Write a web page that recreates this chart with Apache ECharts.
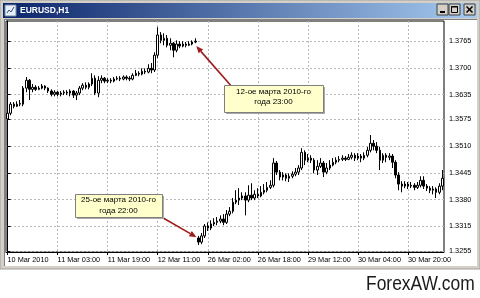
<!DOCTYPE html>
<html><head><meta charset="utf-8">
<script src="https://cdn.jsdelivr.net/npm/echarts@6/dist/echarts.min.js"></script>
<style>html,body{margin:0;padding:0;background:#fff;}#c{width:480px;height:298px;}</style>
</head><body><div id="c"></div>
<script>
const chartTitle = 'EURUSD,H1';
const times = [
'10 Mar 11:00','10 Mar 12:00','10 Mar 13:00','10 Mar 14:00','10 Mar 15:00','10 Mar 16:00','10 Mar 17:00','10 Mar 18:00','10 Mar 19:00','10 Mar 20:00','10 Mar 21:00','10 Mar 22:00','10 Mar 23:00',
'11 Mar 00:00','11 Mar 01:00','11 Mar 02:00','11 Mar 03:00','11 Mar 04:00','11 Mar 05:00','11 Mar 06:00','11 Mar 07:00','11 Mar 08:00','11 Mar 09:00','11 Mar 10:00','11 Mar 11:00','11 Mar 12:00','11 Mar 13:00','11 Mar 14:00','11 Mar 15:00','11 Mar 16:00','11 Mar 17:00','11 Mar 18:00','11 Mar 19:00','11 Mar 20:00','11 Mar 21:00','11 Mar 22:00','11 Mar 23:00',
'12 Mar 00:00','12 Mar 01:00','12 Mar 02:00','12 Mar 03:00','12 Mar 04:00','12 Mar 05:00','12 Mar 06:00','12 Mar 07:00','12 Mar 08:00','12 Mar 09:00','12 Mar 10:00','12 Mar 11:00','12 Mar 12:00','12 Mar 13:00','12 Mar 14:00','12 Mar 15:00','12 Mar 16:00','12 Mar 17:00','12 Mar 18:00','12 Mar 19:00','12 Mar 20:00','12 Mar 21:00','12 Mar 22:00','12 Mar 23:00',
'25 Mar 23:00',
'26 Mar 00:00','26 Mar 01:00','26 Mar 02:00','26 Mar 03:00','26 Mar 04:00','26 Mar 05:00','26 Mar 06:00','26 Mar 07:00','26 Mar 08:00','26 Mar 09:00','26 Mar 10:00','26 Mar 11:00','26 Mar 12:00','26 Mar 13:00','26 Mar 14:00','26 Mar 15:00','26 Mar 16:00','26 Mar 17:00','26 Mar 18:00','26 Mar 19:00','26 Mar 20:00','26 Mar 21:00',
'29 Mar 00:00','29 Mar 01:00','29 Mar 02:00','29 Mar 03:00','29 Mar 04:00','29 Mar 05:00','29 Mar 06:00','29 Mar 07:00','29 Mar 08:00','29 Mar 09:00','29 Mar 10:00','29 Mar 11:00','29 Mar 12:00','29 Mar 13:00','29 Mar 14:00','29 Mar 15:00','29 Mar 16:00','29 Mar 17:00','29 Mar 18:00','29 Mar 19:00','29 Mar 20:00','29 Mar 21:00','29 Mar 22:00','29 Mar 23:00',
'30 Mar 00:00','30 Mar 01:00','30 Mar 02:00','30 Mar 03:00','30 Mar 04:00','30 Mar 05:00','30 Mar 06:00','30 Mar 07:00','30 Mar 08:00','30 Mar 09:00','30 Mar 10:00','30 Mar 11:00','30 Mar 12:00','30 Mar 13:00','30 Mar 14:00','30 Mar 15:00','30 Mar 16:00','30 Mar 17:00','30 Mar 18:00','30 Mar 19:00','30 Mar 20:00','30 Mar 21:00','30 Mar 22:00','30 Mar 23:00',
'31 Mar 00:00','31 Mar 01:00','31 Mar 02:00','31 Mar 03:00','31 Mar 04:00','31 Mar 05:00','31 Mar 06:00','31 Mar 07:00'
];
const opens = [
1.3576,1.3590,1.3612,1.3607,1.3612,1.3612,1.3651,1.3670,1.3648,1.3653,
1.3648,1.3651,1.3656,1.3651,1.3644,1.3636,1.3641,1.3636,1.3639,1.3641,
1.3639,1.3644,1.3634,1.3639,1.3651,1.3658,1.3653,1.3661,1.3675,1.3639,
1.3670,1.3675,1.3668,1.3670,1.3668,1.3673,1.3675,1.3673,1.3678,1.3675,
1.3673,1.3682,1.3687,1.3685,1.3692,1.3690,1.3699,1.3695,1.3731,1.3780,
1.3767,1.3772,1.3755,1.3760,1.3743,1.3758,1.3753,1.3758,1.3755,1.3758,
1.3763,
1.3287,1.3277,1.3292,1.3316,1.3311,1.3321,1.3325,1.3328,1.3333,1.3325,
1.3345,1.3352,1.3374,1.3379,1.3384,1.3389,1.3379,1.3391,1.3384,1.3393,
1.3389,1.3398,1.3403,1.3410,1.3415,1.3469,1.3447,1.3435,1.3440,1.3432,
1.3437,1.3442,1.3447,1.3457,1.3495,1.3476,1.3481,1.3476,1.3452,1.3461,
1.3469,1.3447,1.3457,1.3464,1.3471,1.3476,1.3478,1.3481,1.3478,1.3483,
1.3488,1.3481,1.3486,1.3481,1.3488,1.3500,1.3517,1.3510,1.3500,1.3476,
1.3488,1.3483,1.3486,1.3471,1.3440,1.3418,1.3413,1.3418,1.3413,1.3415,
1.3410,1.3415,1.3427,1.3413,1.3408,1.3403,1.3406,1.3398,1.3413
];
const closes = [
1.3590,1.3612,1.3607,1.3612,1.3614,1.3651,1.3670,1.3648,1.3653,1.3648,
1.3651,1.3656,1.3651,1.3644,1.3636,1.3641,1.3636,1.3639,1.3641,1.3639,
1.3644,1.3634,1.3639,1.3651,1.3658,1.3653,1.3661,1.3675,1.3639,1.3670,
1.3675,1.3668,1.3670,1.3668,1.3673,1.3675,1.3673,1.3678,1.3675,1.3673,
1.3682,1.3687,1.3685,1.3692,1.3690,1.3699,1.3695,1.3731,1.3780,1.3767,
1.3772,1.3755,1.3760,1.3743,1.3758,1.3753,1.3758,1.3755,1.3758,1.3763,
1.3765,
1.3277,1.3292,1.3316,1.3311,1.3321,1.3325,1.3328,1.3333,1.3325,1.3345,
1.3352,1.3374,1.3379,1.3384,1.3389,1.3379,1.3391,1.3384,1.3393,1.3389,
1.3398,1.3403,1.3410,1.3415,1.3469,1.3447,1.3435,1.3440,1.3432,1.3437,
1.3442,1.3447,1.3457,1.3495,1.3476,1.3481,1.3476,1.3452,1.3461,1.3469,
1.3447,1.3457,1.3464,1.3471,1.3476,1.3478,1.3481,1.3478,1.3483,1.3488,
1.3481,1.3486,1.3481,1.3488,1.3500,1.3517,1.3510,1.3500,1.3476,1.3488,
1.3483,1.3486,1.3471,1.3440,1.3418,1.3413,1.3418,1.3413,1.3415,1.3410,
1.3415,1.3427,1.3413,1.3408,1.3403,1.3406,1.3398,1.3413,1.3432
];
const highs = [
1.3597,1.3617,1.3617,1.3619,1.3622,1.3656,1.3678,1.3673,1.3661,1.3658,
1.3656,1.3661,1.3658,1.3653,1.3648,1.3646,1.3644,1.3644,1.3646,1.3646,
1.3648,1.3646,1.3644,1.3656,1.3663,1.3665,1.3665,1.3687,1.3682,1.3680,
1.3682,1.3678,1.3675,1.3675,1.3678,1.3680,1.3680,1.3682,1.3682,1.3680,
1.3687,1.3695,1.3692,1.3699,1.3699,1.3709,1.3712,1.3738,1.3799,1.3787,
1.3784,1.3780,1.3772,1.3763,1.3767,1.3765,1.3765,1.3763,1.3765,1.3767,
1.3772,
1.3292,1.3299,1.3321,1.3325,1.3330,1.3335,1.3338,1.3342,1.3345,1.3355,
1.3362,1.3384,1.3403,1.3408,1.3398,1.3398,1.3415,1.3420,1.3403,1.3408,
1.3413,1.3418,1.3423,1.3427,1.3481,1.3474,1.3452,1.3447,1.3444,1.3444,
1.3449,1.3457,1.3464,1.3505,1.3500,1.3491,1.3488,1.3481,1.3476,1.3481,
1.3474,1.3469,1.3476,1.3481,1.3483,1.3486,1.3488,1.3486,1.3491,1.3495,
1.3493,1.3493,1.3491,1.3495,1.3508,1.3537,1.3525,1.3520,1.3508,1.3493,
1.3493,1.3493,1.3491,1.3476,1.3447,1.3425,1.3425,1.3423,1.3423,1.3420,
1.3423,1.3437,1.3437,1.3418,1.3413,1.3413,1.3410,1.3420,1.3452
];
const lows = [
1.3571,1.3585,1.3602,1.3605,1.3607,1.3607,1.3641,1.3622,1.3641,1.3644,
1.3646,1.3648,1.3646,1.3639,1.3631,1.3631,1.3631,1.3631,1.3634,1.3634,
1.3631,1.3627,1.3622,1.3634,1.3646,1.3648,1.3648,1.3656,1.3634,1.3629,
1.3663,1.3663,1.3663,1.3663,1.3665,1.3670,1.3668,1.3670,1.3670,1.3668,
1.3670,1.3680,1.3680,1.3682,1.3685,1.3687,1.3687,1.3690,1.3724,1.3760,
1.3755,1.3750,1.3743,1.3726,1.3738,1.3748,1.3750,1.3750,1.3753,1.3755,
1.3760,
1.3270,1.3272,1.3287,1.3304,1.3306,1.3316,1.3318,1.3323,1.3318,1.3321,
1.3340,1.3347,1.3369,1.3367,1.3379,1.3342,1.3374,1.3379,1.3379,1.3384,
1.3386,1.3393,1.3398,1.3406,1.3410,1.3440,1.3427,1.3427,1.3425,1.3423,
1.3432,1.3437,1.3440,1.3452,1.3464,1.3471,1.3469,1.3444,1.3440,1.3457,
1.3435,1.3442,1.3452,1.3461,1.3466,1.3471,1.3474,1.3474,1.3476,1.3478,
1.3474,1.3476,1.3471,1.3476,1.3483,1.3495,1.3500,1.3493,1.3452,1.3469,
1.3471,1.3476,1.3457,1.3432,1.3403,1.3398,1.3408,1.3406,1.3408,1.3403,
1.3406,1.3410,1.3406,1.3401,1.3396,1.3393,1.3384,1.3393,1.3403
];
const xTickIndex = [0, 16, 32, 48, 64, 80, 96, 112, 128];
const xTickLabels = ['10 Mar 2010','11 Mar 03:00','11 Mar 19:00','12 Mar 11:00','26 Mar 02:00','26 Mar 18:00','29 Mar 12:00','30 Mar 04:00','30 Mar 20:00'];
const yTickValues = [1.3255, 1.3315, 1.3380, 1.3445, 1.3510, 1.3575, 1.3635, 1.3700, 1.3765];
const yTickLabels = ['1.3255','1.3315','1.3380','1.3445','1.3510','1.3575','1.3635','1.3700','1.3765'];
const noteTexts = ['12-ое марта 2010-го\nгода 23:00', '25-ое марта 2010-го\nгода 22:00'];
const noteBarIndex = [60, 61];
const notePrice = [1.3753, 1.3289];
const watermark = 'ForexAW.com';

const FONT = '"Liberation Sans", Arial, sans-serif';
const chart = echarts.init(document.getElementById('c'), null, {renderer: 'canvas', width: 480, height: 298});
const candleData = times.map((t, i) => [i, opens[i], closes[i], lows[i], highs[i]]);

const chrome = [
  {type: 'rect', z: -30, shape: {x: 0, y: 0, width: 480, height: 269}, style: {fill: '#d4d0c8', stroke: '#a0a0a0', lineWidth: 1}},
  {type: 'rect', z: -29, shape: {x: 3, y: 3, width: 474, height: 15},
    style: {fill: new echarts.graphic.LinearGradient(0, 0, 1, 0, [{offset: 0, color: '#0a246a'}, {offset: 1, color: '#a6caf0'}])}},
  {type: 'rect', z: -28, shape: {x: 5, y: 5, width: 11, height: 11}, style: {fill: '#e6eef8', stroke: '#7a8aa0', lineWidth: 1}},
  {type: 'polyline', z: -27, shape: {points: [[7, 13], [9, 10], [11, 12], [14, 7]]}, style: {stroke: '#305080', lineWidth: 1, fill: null}},
  {type: 'text', z: -27, x: 20, y: 10.5, style: {text: chartTitle, font: 'bold 8.5px ' + FONT, fill: '#ffffff', verticalAlign: 'middle'}},
  {type: 'rect', z: -28, shape: {x: 437, y: 4, width: 11, height: 11}, style: {fill: '#d4d0c8', stroke: '#404040', lineWidth: 1}},
  {type: 'rect', z: -27, shape: {x: 440, y: 11, width: 5, height: 2}, style: {fill: '#000'}},
  {type: 'rect', z: -28, shape: {x: 449, y: 4, width: 11, height: 11}, style: {fill: '#d4d0c8', stroke: '#404040', lineWidth: 1}},
  {type: 'rect', z: -27, shape: {x: 451.5, y: 6.5, width: 6, height: 6}, style: {fill: null, stroke: '#000', lineWidth: 1}},
  {type: 'rect', z: -27, shape: {x: 451.5, y: 6.5, width: 6, height: 1}, style: {fill: '#000'}},
  {type: 'rect', z: -28, shape: {x: 464, y: 4, width: 11, height: 11}, style: {fill: '#d4d0c8', stroke: '#404040', lineWidth: 1}},
  {type: 'line', z: -27, shape: {x1: 466.5, y1: 6.5, x2: 472.5, y2: 12.5}, style: {stroke: '#000', lineWidth: 1.6}},
  {type: 'line', z: -27, shape: {x1: 472.5, y1: 6.5, x2: 466.5, y2: 12.5}, style: {stroke: '#000', lineWidth: 1.6}},
  {type: 'rect', z: -28, shape: {x: 4, y: 19, width: 473, height: 247}, style: {fill: '#ffffff'}},
  {type: 'line', z: -27, shape: {x1: 4, y1: 19.5, x2: 477, y2: 19.5}, style: {stroke: '#808080', lineWidth: 1}},
  {type: 'line', z: -27, shape: {x1: 4.5, y1: 19, x2: 4.5, y2: 266}, style: {stroke: '#808080', lineWidth: 1}},
  {type: 'text', z: -27, x: 366, y: 284, scaleX: 0.83, originX: 0, originY: 0,
    style: {text: watermark, font: '21px ' + FONT, fill: '#1a1a1a', verticalAlign: 'middle'}}
];

chart.setOption({
  animation: false,
  grid: {left: 6, top: 21, width: 438, height: 231, show: true, borderColor: '#000', borderWidth: 1, backgroundColor: 'transparent', outerBoundsMode: 'none', containLabel: false},
  xAxis: {
    type: 'value', min: -0.5, max: 139.5,
    axisLine: {show: true, lineStyle: {color: '#000', width: 1}},
    axisTick: {show: true, length: 3, customValues: xTickIndex, lineStyle: {color: '#000'}},
    axisLabel: {show: true, customValues: xTickIndex, align: 'left', margin: 4, fontSize: 7.3, fontFamily: 'Liberation Sans', color: '#000',
      formatter: v => xTickLabels[xTickIndex.indexOf(Math.round(v))] || ''},
    splitLine: {show: true, lineStyle: {color: '#b8b8b8', type: [2, 2], width: 1}}
  },
  yAxis: {
    type: 'value', position: 'right', min: 1.3253, max: 1.3814, scale: true,
    axisLine: {show: true, lineStyle: {color: '#000', width: 1}},
    axisTick: {show: true, length: 3, customValues: yTickValues, lineStyle: {color: '#000'}},
    axisLabel: {show: true, customValues: yTickValues, margin: 5, fontSize: 7.3, fontFamily: 'Liberation Sans', color: '#000',
      formatter: v => { const k = yTickValues.findIndex(t => Math.abs(t - v) < 1e-6); return k >= 0 ? yTickLabels[k] : ''; }},
    splitLine: {show: true, lineStyle: {color: '#b8b8b8', type: [2, 2], width: 1}}
  },
  series: [{
    type: 'candlestick', data: candleData, barWidth: 2,
    itemStyle: {color: '#ffffff', color0: '#000000', borderColor: '#000000', borderColor0: '#000000', borderColorDoji: '#000000', borderWidth: 1}
  }],
  graphic: chrome
});

// Annotation callouts anchored to the bars they point at
const tip1 = chart.convertToPixel({gridIndex: 0}, [noteBarIndex[0], notePrice[0]]);
const tip2 = chart.convertToPixel({gridIndex: 0}, [noteBarIndex[1], notePrice[1]]);
function arrow(from, to, color) {
  const dx = to[0] - from[0], dy = to[1] - from[1];
  const len = Math.sqrt(dx * dx + dy * dy);
  const ux = dx / len, uy = dy / len, nx = -uy, ny = ux;
  const hl = 7, hw = 3;
  const bx = to[0] - ux * hl, by = to[1] - uy * hl;
  return [
    {type: 'line', z: 50, shape: {x1: from[0], y1: from[1], x2: bx, y2: by}, style: {stroke: color, lineWidth: 1.6}},
    {type: 'polygon', z: 50, shape: {points: [[to[0], to[1]], [bx + nx * hw, by + ny * hw], [bx - nx * hw, by - ny * hw]]}, style: {fill: color}}
  ];
}
function box(x, y, w, h, text, cy) {
  return [
    {type: 'rect', z: 60, shape: {x: x + 2, y: y + 2, width: w, height: h}, style: {fill: '#a8a8a8'}},
    {type: 'rect', z: 61, shape: {x: x + 0.5, y: y + 0.5, width: w, height: h}, style: {fill: '#ffffcc', stroke: '#7f7f7f', lineWidth: 1}},
    {type: 'text', z: 62, x: x + w / 2, y: cy, style: {text: text, font: '8px ' + FONT, fill: '#000', align: 'center', verticalAlign: 'middle', lineHeight: 10.5}}
  ];
}
const notes = [].concat(
  arrow([233, 88], [tip1[0] + 1, tip1[1]], '#9e1b1b'),
  arrow([158, 215], [tip2[0] - 2, tip2[1]], '#9e1b1b'),
  box(224, 85, 99, 27, noteTexts[0], 97),
  box(75, 194, 87, 23, noteTexts[1], 205.5)
);
chart.setOption({graphic: chrome.concat(notes)});
</script>
</body></html>
